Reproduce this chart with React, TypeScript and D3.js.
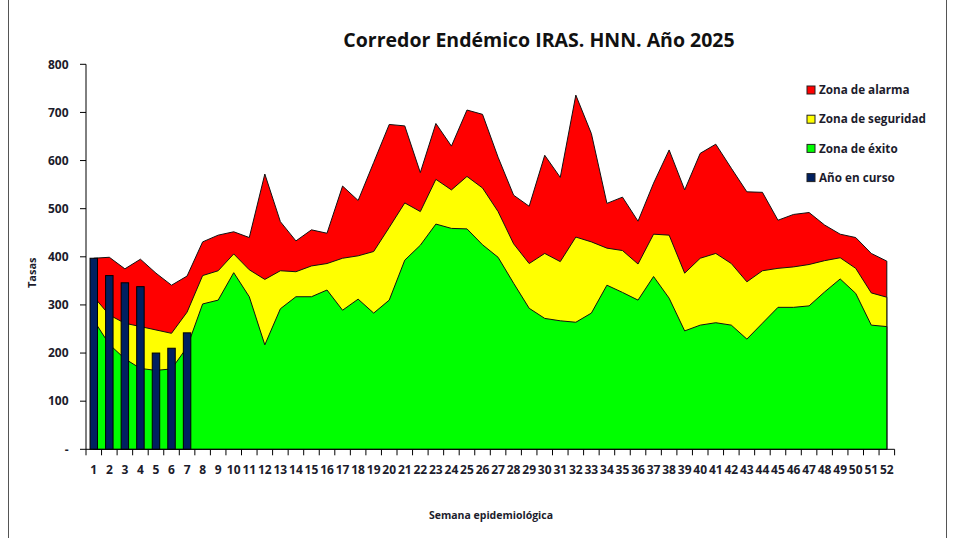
import React from "react";
import * as d3 from "d3";

// semanas epidemiológicas
const weeks = d3.range(1, 53).map(String);

// límites del corredor (cuartil inferior, mediana, cuartil superior)
const exito = [268, 218, 188, 168, 164, 167, 212, 302, 310, 367, 317, 217, 292, 317, 317, 331, 289, 312, 283, 310, 393, 424, 468, 459, 458, 425, 399, 345, 293, 272, 267, 264, 283, 341, 326, 310, 359, 314, 246, 258, 263, 258, 229, 262, 295, 295, 298, 327, 354, 324, 258, 255];
const seguridad = [317, 279, 262, 255, 248, 241, 285, 361, 371, 406, 373, 353, 371, 369, 381, 386, 397, 402, 411, 461, 512, 494, 561, 539, 567, 543, 494, 427, 386, 407, 390, 441, 431, 418, 413, 385, 447, 445, 366, 397, 407, 386, 348, 371, 376, 379, 384, 392, 398, 376, 325, 316];
const alarma = [397, 399, 375, 395, 366, 341, 360, 431, 445, 452, 440, 572, 473, 433, 456, 449, 547, 517, 596, 675, 672, 575, 677, 630, 705, 696, 607, 528, 505, 611, 565, 736, 656, 511, 524, 474, 553, 622, 539, 615, 634, 584, 535, 534, 476, 488, 492, 466, 447, 440, 407, 391];
// año en curso
const actual = [397, 361, 346, 338, 200, 210, 242];

const yTicks = [0, 100, 200, 300, 400, 500, 600, 700, 800];

const legend = [
  { label: "Zona de alarma", color: "#ff0000" },
  { label: "Zona de seguridad", color: "#ffff00" },
  { label: "Zona de éxito", color: "#00ff00" },
  { label: "Año en curso", color: "#002060" }
];

const W = 959;
const H = 538;
const left = 86;
const right = 894.6;
const top = 64.3;
const bottom = 449.3;
const font = "'Open Sans', sans-serif";
const ink = "#1c1c2c";

export default function App() {
  const x = d3.scaleBand().domain(weeks).range([left, right]).padding(0);
  const y = d3.scaleLinear().domain([0, 800]).range([bottom, top]);
  const bw = x.bandwidth();
  const cx = (i: number) => (x(weeks[i]) as number) + bw / 2;

  const zone = (vals: number[]) =>
    d3
      .area<number>()
      .x((_, i) => cx(i))
      .y0(y(0))
      .y1(d => y(d))(vals) as string;

  const zones = [
    { vals: alarma, color: "#ff0000" },
    { vals: seguridad, color: "#ffff00" },
    { vals: exito, color: "#00ff00" }
  ];

  return (
    <svg
      width={W}
      height={H}
      style={{ position: "absolute", left: 0, top: 0, background: "#fff" }}
    >
      <rect x={8.5} y={-2} width={938} height={H + 4} fill="none" stroke="#555" strokeWidth={1} />

      <text x={539} y={47} textAnchor="middle" fontFamily={font} fontWeight="bold" fontSize={19.5} fill="#111">
        Corredor Endémico IRAS. HNN. Año 2025
      </text>

      {zones.map(z => (
        <path key={z.color} d={zone(z.vals)} fill={z.color} stroke="#111" strokeWidth={1} strokeLinejoin="round" />
      ))}

      {actual.map((v, i) => (
        <rect
          key={i}
          x={cx(i) - bw * 0.24}
          y={y(v)}
          width={bw * 0.48}
          height={y(0) - y(v)}
          fill="#002060"
          stroke="#000"
          strokeWidth={1}
        />
      ))}

      {/* eje Y */}
      <line x1={left} x2={left} y1={top} y2={bottom} stroke="#000" />
      {yTicks.map(t => (
        <g key={t}>
          <line x1={left - 6} x2={left} y1={y(t)} y2={y(t)} stroke="#000" />
          <text x={68.5} y={y(t)} dy="0.35em" textAnchor="end" fontFamily={font} fontWeight="bold" fontSize={12} fill={ink}>
            {t === 0 ? "-" : t}
          </text>
        </g>
      ))}
      <text
        transform={`translate(36,${(top + bottom) / 2 + 16}) rotate(-90)`}
        textAnchor="middle"
        fontFamily={font}
        fontWeight="bold"
        fontSize={11}
        fill={ink}
      >
        Tasas
      </text>

      {/* eje X */}
      <line x1={left} x2={right} y1={bottom} y2={bottom} stroke="#000" />
      {[...weeks.map(w => x(w) as number), right].map((t, i) => (
        <line key={i} x1={t} x2={t} y1={bottom} y2={bottom + 6} stroke="#000" />
      ))}
      {weeks.map((w, i) => (
        <text key={w} x={cx(i)} y={473.5} textAnchor="middle" fontFamily={font} fontWeight="bold" fontSize={12} fill={ink}>
          {w}
        </text>
      ))}
      <text x={491} y={519} textAnchor="middle" fontFamily={font} fontWeight="bold" fontSize={10.5} fill={ink}>
        Semana epidemiológica
      </text>

      {/* leyenda */}
      {legend.map((l, i) => (
        <g key={l.label} transform={`translate(807,${90 + i * 29.2})`}>
          <rect x={0} y={-4} width={8} height={8} fill={l.color} stroke="#222" strokeWidth={1} />
          <text x={12} y={0} dy="0.35em" fontFamily={font} fontWeight="bold" fontSize={11.7} fill={ink}>
            {l.label}
          </text>
        </g>
      ))}
    </svg>
  );
}
